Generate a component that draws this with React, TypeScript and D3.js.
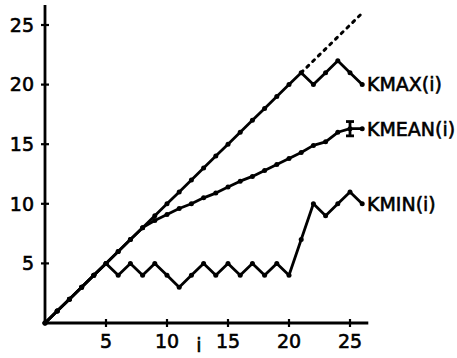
import React from "react";
import * as d3 from "d3";

const W = 457;
const H = 358;

const kmaxI = [0,1,2,3,4,5,6,7,8,9,10,11,12,13,14,15,16,17,18,19,20,21,22,23,24,25,26];
const kmaxV = [0,1,2,3,4,5,6,7,8,9,10,11,12,13,14,15,16,17,18,19,20,21,20,21,22,21,20];

const kminI = [0,1,2,3,4,5,6,7,8,9,10,11,12,13,14,15,16,17,18,19,20,21,22,23,24,25,26];
const kminV = [0,1,2,3,4,5,4,5,4,5,4,3,4,5,4,5,4,5,4,5,4,7,10,9,10,11,10];

const kmeanI = [0,1,2,3,4,5,6,7,8,9,10,11,12,13,14,15,16,17,18,19,20,21,22,23,24,25,26];
const kmeanV = [0,1,2,3,4,5,6,7,8,8.6,9.1,9.6,10,10.5,10.9,11.4,11.9,12.3,12.8,13.3,13.8,14.3,14.9,15.2,16,16.3,16.3];

const boundI = [21, 26];
const boundV = [21, 26];

const errI = 25;
const errLo = 15.7;
const errHi = 16.9;

const xTicks = [5, 10, 15, 20, 25];
const yTicks = [5, 10, 15, 20, 25];

const labels = [
  { text: "KMAX(i)", v: 20 },
  { text: "KMEAN(i)", v: 16.3 },
  { text: "KMIN(i)", v: 10 },
];

export default function App() {
  const x = d3.scaleLinear().domain([0, 25]).range([45, 350]);
  const y = d3.scaleLinear().domain([0, 25]).range([323, 25]);
  const line = d3
    .line<[number, number]>()
    .x((d) => x(d[0]))
    .y((d) => y(d[1]));

  const series = [
    kmaxI.map((v, k) => [v, kmaxV[k]] as [number, number]),
    kminI.map((v, k) => [v, kminV[k]] as [number, number]),
    kmeanI.map((v, k) => [v, kmeanV[k]] as [number, number]),
  ];
  const bound = boundI.map((v, k) => [v, boundV[k]] as [number, number]);
  const font = "'DejaVu Sans', sans-serif";
  const sw = 0.6;

  return (
    <svg
      width={W}
      height={H}
      style={{ position: "absolute", left: 0, top: 0, background: "#fff" }}
    >
      {/* axes */}
      <line x1={x(0)} y1={y(0)} x2={x(0)} y2={5} stroke="#000" strokeWidth={2.8} />
      <line x1={x(0)} y1={y(0)} x2={x(26.5)} y2={y(0)} stroke="#000" strokeWidth={2.8} />
      {yTicks.map((t) => (
        <g key={"y" + t}>
          <line x1={x(0) - 4} x2={x(0) + 4} y1={y(t)} y2={y(t)} stroke="#000" strokeWidth={2.2} />
          <text
            x={34}
            y={y(t)}
            dy="0.36em"
            textAnchor="end"
            fontFamily={font}
            fontSize={19}
            stroke="#000"
            strokeWidth={sw}
          >
            {t}
          </text>
        </g>
      ))}
      {xTicks.map((t) => (
        <g key={"x" + t}>
          <line x1={x(t)} x2={x(t)} y1={y(0) - 4} y2={y(0) + 4} stroke="#000" strokeWidth={2.2} />
          <text
            x={x(t)}
            y={348}
            textAnchor="middle"
            fontFamily={font}
            fontSize={19}
            stroke="#000"
            strokeWidth={sw}
          >
            {t}
          </text>
        </g>
      ))}
      <text x={199} y={352} textAnchor="middle" fontFamily={font} fontSize={19} stroke="#000" strokeWidth={sw}>
        i
      </text>

      {/* dotted bound */}
      <path
        d={line(bound) || ""}
        fill="none"
        stroke="#000"
        strokeWidth={3}
        strokeDasharray="2.5 5.5"
        strokeLinecap="round"
      />

      {/* series */}
      {series.map((s, k) => (
        <g key={"s" + k}>
          <path d={line(s) || ""} fill="none" stroke="#000" strokeWidth={2.8} strokeLinejoin="round" />
          {s.map((p, j) => (
            <circle key={j} cx={x(p[0])} cy={y(p[1])} r={2.5} fill="#000" />
          ))}
        </g>
      ))}

      {/* error bar */}
      <line x1={x(errI)} x2={x(errI)} y1={y(errLo)} y2={y(errHi)} stroke="#000" strokeWidth={2.8} />
      <line x1={x(errI) - 4} x2={x(errI) + 4} y1={y(errLo)} y2={y(errLo)} stroke="#000" strokeWidth={2.8} />
      <line x1={x(errI) - 4} x2={x(errI) + 4} y1={y(errHi)} y2={y(errHi)} stroke="#000" strokeWidth={2.8} />

      {/* labels */}
      {labels.map((l) => (
        <text
          key={l.text}
          x={367}
          y={y(l.v)}
          dy="0.36em"
          fontFamily={font}
          fontSize={19}
          stroke="#000"
          strokeWidth={sw}
        >
          {l.text}
        </text>
      ))}
    </svg>
  );
}
